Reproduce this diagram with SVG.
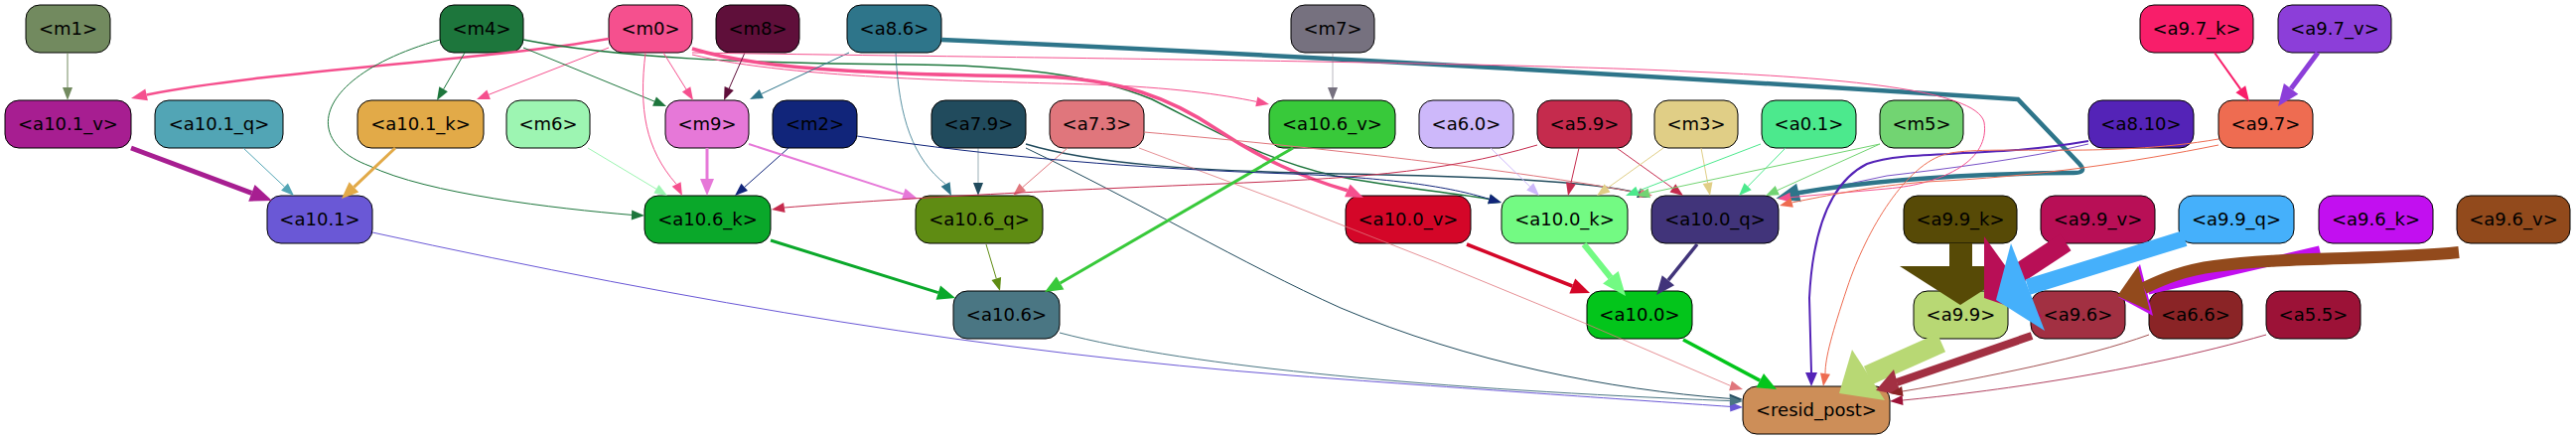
<svg xmlns="http://www.w3.org/2000/svg" width="2594" height="443" viewBox="0 0 2594 443">
<style>
.n rect{stroke:#000;stroke-width:1}
.n text{font-family:"DejaVu Sans","Liberation Sans",sans-serif;font-size:18px;text-anchor:middle;fill:#000}
.e path{fill:none}
</style>
<rect width="2594" height="443" fill="#fff"/>
<g id="nodes">
<g id="m1" class="n"><rect x="26" y="5" width="85" height="48" rx="14" fill="#728a5f"/><text x="68.5" y="35">&lt;m1&gt;</text></g>
<g id="m4" class="n"><rect x="443" y="5" width="84" height="48" rx="14" fill="#1d763c"/><text x="485" y="35">&lt;m4&gt;</text></g>
<g id="m0" class="n"><rect x="613" y="5" width="84" height="48" rx="14" fill="#f5508e"/><text x="655" y="35">&lt;m0&gt;</text></g>
<g id="m8" class="n"><rect x="721" y="5" width="84" height="48" rx="14" fill="#5f0f3a"/><text x="763" y="35">&lt;m8&gt;</text></g>
<g id="a8.6" class="n"><rect x="853" y="5" width="95" height="48" rx="14" fill="#2e758a"/><text x="900.5" y="35">&lt;a8.6&gt;</text></g>
<g id="m7" class="n"><rect x="1300" y="5" width="84" height="48" rx="14" fill="#76717f"/><text x="1342" y="35">&lt;m7&gt;</text></g>
<g id="a9.7_k" class="n"><rect x="2155" y="5" width="114" height="48" rx="14" fill="#f81e6a"/><text x="2212" y="35">&lt;a9.7_k&gt;</text></g>
<g id="a9.7_v" class="n"><rect x="2294" y="5" width="114" height="48" rx="14" fill="#8c3ed9"/><text x="2351" y="35">&lt;a9.7_v&gt;</text></g>

<g id="a10.1_v" class="n"><rect x="5" y="101" width="127" height="48" rx="14" fill="#a71e91"/><text x="68.5" y="131">&lt;a10.1_v&gt;</text></g>
<g id="a10.1_q" class="n"><rect x="156" y="101" width="129" height="48" rx="14" fill="#52a5b5"/><text x="220.5" y="131">&lt;a10.1_q&gt;</text></g>
<g id="a10.1_k" class="n"><rect x="360" y="101" width="127" height="48" rx="14" fill="#e2aa48"/><text x="423.5" y="131">&lt;a10.1_k&gt;</text></g>
<g id="m6" class="n"><rect x="510" y="101" width="84" height="48" rx="14" fill="#9df5b2"/><text x="552" y="131">&lt;m6&gt;</text></g>
<g id="m9" class="n"><rect x="670" y="101" width="84" height="48" rx="14" fill="#e678d8"/><text x="712" y="131">&lt;m9&gt;</text></g>
<g id="m2" class="n"><rect x="778" y="101" width="85" height="48" rx="14" fill="#11257a"/><text x="820.5" y="131">&lt;m2&gt;</text></g>
<g id="a7.9" class="n"><rect x="938" y="101" width="95" height="48" rx="14" fill="#214b5d"/><text x="985.5" y="131">&lt;a7.9&gt;</text></g>
<g id="a7.3" class="n"><rect x="1057" y="101" width="95" height="48" rx="14" fill="#e0767c"/><text x="1104.5" y="131">&lt;a7.3&gt;</text></g>
<g id="a10.6_v" class="n"><rect x="1278" y="101" width="127" height="48" rx="14" fill="#38c93a"/><text x="1341.5" y="131">&lt;a10.6_v&gt;</text></g>
<g id="a6.0" class="n"><rect x="1429" y="101" width="95" height="48" rx="14" fill="#cdb8fa"/><text x="1476.5" y="131">&lt;a6.0&gt;</text></g>
<g id="a5.9" class="n"><rect x="1548" y="101" width="95" height="48" rx="14" fill="#c52b4d"/><text x="1595.5" y="131">&lt;a5.9&gt;</text></g>
<g id="m3" class="n"><rect x="1666" y="101" width="84" height="48" rx="14" fill="#e0ce86"/><text x="1708" y="131">&lt;m3&gt;</text></g>
<g id="a0.1" class="n"><rect x="1774" y="101" width="95" height="48" rx="14" fill="#4ce98d"/><text x="1821.5" y="131">&lt;a0.1&gt;</text></g>
<g id="m5" class="n"><rect x="1893" y="101" width="84" height="48" rx="14" fill="#72d472"/><text x="1935" y="131">&lt;m5&gt;</text></g>
<g id="a8.10" class="n"><rect x="2103" y="101" width="106" height="48" rx="14" fill="#5423b7"/><text x="2156" y="131">&lt;a8.10&gt;</text></g>
<g id="a9.7" class="n"><rect x="2234" y="101" width="95" height="48" rx="14" fill="#ee6c51"/><text x="2281.5" y="131">&lt;a9.7&gt;</text></g>

<g id="a10.1" class="n"><rect x="269" y="197" width="106" height="48" rx="14" fill="#6a58d6"/><text x="322" y="227">&lt;a10.1&gt;</text></g>
<g id="a10.6_k" class="n"><rect x="649" y="197" width="127" height="48" rx="14" fill="#0aa82a"/><text x="712.5" y="227">&lt;a10.6_k&gt;</text></g>
<g id="a10.6_q" class="n"><rect x="922" y="197" width="128" height="48" rx="14" fill="#5f8c13"/><text x="986" y="227">&lt;a10.6_q&gt;</text></g>
<g id="a10.0_v" class="n"><rect x="1355" y="197" width="126" height="48" rx="14" fill="#d40628"/><text x="1418" y="227">&lt;a10.0_v&gt;</text></g>
<g id="a10.0_k" class="n"><rect x="1512" y="197" width="127" height="48" rx="14" fill="#73fa83"/><text x="1575.5" y="227">&lt;a10.0_k&gt;</text></g>
<g id="a10.0_q" class="n"><rect x="1663" y="197" width="128" height="48" rx="14" fill="#41347a"/><text x="1727" y="227">&lt;a10.0_q&gt;</text></g>
<g id="a9.9_k" class="n"><rect x="1917" y="197" width="114" height="48" rx="14" fill="#574a06"/><text x="1974" y="227">&lt;a9.9_k&gt;</text></g>
<g id="a9.9_v" class="n"><rect x="2055" y="197" width="115" height="48" rx="14" fill="#b80f56"/><text x="2112.5" y="227">&lt;a9.9_v&gt;</text></g>
<g id="a9.9_q" class="n"><rect x="2194" y="197" width="116" height="48" rx="14" fill="#45b0fb"/><text x="2252" y="227">&lt;a9.9_q&gt;</text></g>
<g id="a9.6_k" class="n"><rect x="2335" y="197" width="115" height="48" rx="14" fill="#c20ff0"/><text x="2392.5" y="227">&lt;a9.6_k&gt;</text></g>
<g id="a9.6_v" class="n"><rect x="2474" y="197" width="114" height="48" rx="14" fill="#924a1c"/><text x="2531" y="227">&lt;a9.6_v&gt;</text></g>

<g id="a10.6" class="n"><rect x="960" y="293" width="107" height="48" rx="14" fill="#4a7683"/><text x="1013.5" y="323">&lt;a10.6&gt;</text></g>
<g id="a10.0" class="n"><rect x="1598" y="293" width="106" height="48" rx="14" fill="#03c51b"/><text x="1651" y="323">&lt;a10.0&gt;</text></g>
<g id="a9.9" class="n"><rect x="1927" y="293" width="95" height="48" rx="14" fill="#b8d874"/><text x="1974.5" y="323">&lt;a9.9&gt;</text></g>
<g id="a9.6" class="n"><rect x="2045" y="293" width="95" height="48" rx="14" fill="#a23042"/><text x="2092.5" y="323">&lt;a9.6&gt;</text></g>
<g id="a6.6" class="n"><rect x="2164" y="293" width="94" height="48" rx="14" fill="#8a2426"/><text x="2211" y="323">&lt;a6.6&gt;</text></g>
<g id="a5.5" class="n"><rect x="2282" y="293" width="95" height="48" rx="14" fill="#9c1237"/><text x="2329.5" y="323">&lt;a5.5&gt;</text></g>

<g id="resid_post" class="n"><rect x="1755" y="389" width="148" height="48" rx="14" fill="#cd8e58"/><text x="1829" y="419">&lt;resid_post&gt;</text></g>
</g>

<g id="connectors" class="e">
<g><path d="M68,53 L68,88" stroke="#728a5f"/><polygon points="63,88 73,88 68,101" fill="#728a5f"/></g>
<g><path d="M613,39 C480,62 280,70 147.6,95.4" stroke="#f5508e" stroke-width="2.5"/><polygon points="146.3,89.5 148.9,101.3 132,99" fill="#f5508e"/></g>
<g><path d="M468,53 L446.6,89.8" stroke="#1d763c"/><polygon points="442.3,87.3 450.9,92.3 440,101" fill="#1d763c"/></g>
<g><path d="M613,48 L492.1,95.3" stroke="#f5508e"/><polygon points="490.3,90.6 493.9,100 480,100" fill="#f5508e"/></g>
<g><path d="M527,48 L659,102.1" stroke="#1d763c"/><polygon points="657.1,106.7 660.9,97.5 671,107" fill="#1d763c"/></g>
<g><path d="M443,40 C320,75 300,140 372,167 C430,195 560,210 636,216.4" stroke="#1d763c"/><polygon points="636.2,211.4 635.8,221.4 649,217" fill="#1d763c"/></g>
<g><path d="M527,40 C620,58 750,64 920,65 C1020,66 1100,75 1160,100 C1220,130 1270,160 1344,177 C1400,188 1460,194 1499.5,200.4" stroke="#1d763c" stroke-width="1.5"/><polygon points="1498.1,205.2 1500.9,195.6 1512,204" fill="#1d763c"/></g>
<g><path d="M697,49 C740,62 800,74 1045,77 C1130,79 1180,100 1225,130 C1270,160 1310,178 1356.8,191.8" stroke="#f5508e" stroke-width="3.5"/><polygon points="1354,198.2 1359.6,185.4 1373,199" fill="#f5508e"/></g>
<g><path d="M697,55 C800,80 1000,82 1100,85 C1180,88 1230,95 1265.3,102.4" stroke="#f5508e"/><polygon points="1264.3,107.3 1266.3,97.5 1278,105" fill="#f5508e"/></g>
<g><path d="M668,53 L691.1,90" stroke="#f5508e"/><polygon points="686.9,92.6 695.3,87.3 698,101" fill="#f5508e"/></g>
<g><path d="M650,53 C643,110 650,150 681.1,185.4" stroke="#f5508e"/><polygon points="676.7,187.7 685.6,183.2 687,197" fill="#f5508e"/></g>
<g><path d="M750,53 L734.2,89.1" stroke="#5f0f3a"/><polygon points="729.6,87.1 738.8,91.1 729,101" fill="#5f0f3a"/></g>
<g><path d="M855,53 L766.8,94.5" stroke="#2e758a"/><polygon points="764.7,90 768.9,99 755,100" fill="#2e758a"/></g>
<g><path d="M902,53 C905,120 920,160 952.1,185.4" stroke="#2e758a" stroke-width="0.8"/><polygon points="947.6,187.7 956.6,183.2 958,197" fill="#2e758a"/></g>
<g><path d="M2103,145 C2040,160 1960,170 1900,177 L1810,196" stroke="#5423b7" stroke-width="0.8"/></g>
<g><path d="M948,40 C1400,60 1800,85 2032,100 L2094,165 Q2103,175 2085,174 C1980,175 1880,182 1810.4,194.2" stroke="#2e758a" stroke-width="4.5"/><polygon points="1808.5,186.4 1812.3,202 1791,199" fill="#2e758a" stroke="#2e758a" stroke-width="2"/></g>
<g><path d="M697,53 C1000,58 1500,62 1700,72 C1850,78 1990,90 1998,123 C2004,160 1960,185 1900,190 L1803,198.7" stroke="#f5508e"/><polygon points="1802.5,193.7 1803.5,203.7 1790,200" fill="#f5508e"/></g>
<g><path d="M2103,142 C2000,160 1920,150 1880,165 C1840,185 1825,240 1822,300 L1824,375" stroke="#5423b7" stroke-width="2"/><polygon points="1818,375 1830,375 1824,389" fill="#5423b7"/></g>
<g><path d="M2234,146 C2150,163 2050,178 1940,183 C1880,188 1840,197 1804.6,203.9" stroke="#ee6c51"/><polygon points="1803.4,199 1805.8,208.8 1792,207" fill="#ee6c51"/></g>
<g><path d="M2234,140 C2120,160 2000,145 1960,155 C1920,165 1880,230 1860,290 C1845,335 1838,360 1838,376" stroke="#ee6c51"/><polygon points="1833,375.4 1843,376.8 1836,389" fill="#ee6c51"/></g>
<g><path d="M2230,53 L2256.3,89.8" stroke="#f81e6a" stroke-width="2"/><polygon points="2251.4,93.3 2261.2,86.3 2265,102" fill="#f81e6a"/></g>
<g><path d="M2334,53 L2307.1,89.3" stroke="#8c3ed9" stroke-width="5"/><polygon points="2299.9,83.9 2314.3,94.7 2294,107" fill="#8c3ed9"/></g>
<g><path d="M132,149 L253.4,194.3" stroke="#a71e91" stroke-width="5"/><polygon points="250.2,202.7 256.6,185.9 274,202" fill="#a71e91"/></g>
<g><path d="M245,149 L286.5,188.1" stroke="#52a5b5"/><polygon points="283.1,191.7 289.9,184.5 296,197" fill="#52a5b5"/></g>
<g><path d="M398,149 L356.4,188.3" stroke="#e2aa48" stroke-width="3"/><polygon points="351.6,183.2 361.2,193.4 344,200" fill="#e2aa48"/></g>
<g><path d="M375,234 C700,305 1000,355 1300,378 C1500,393 1650,403 1742,409.4" stroke="#6a58d6"/><polygon points="1741.7,404.4 1742.3,414.4 1755,410" fill="#6a58d6"/></g>
<g><path d="M592,149 L660.9,190.3" stroke="#9df5b2"/><polygon points="658.3,194.6 663.5,186 672,197" fill="#9df5b2"/></g>
<g><path d="M712,149 L712,180" stroke="#e678d8" stroke-width="3"/><polygon points="705,180 719,180 712,197" fill="#e678d8"/></g>
<g><path d="M794,149 L749.7,188.4" stroke="#11257a"/><polygon points="746.4,184.7 753,192.1 740,197" fill="#11257a"/></g>
<g><path d="M754,145 L909.7,195.4" stroke="#e678d8" stroke-width="2"/><polygon points="907.9,201.1 911.6,189.7 924,200" fill="#e678d8"/></g>
<g><path d="M985,149 L985,184" stroke="#214b5d" stroke-opacity="0.45"/><polygon points="980,184 990,184 985,197" fill="#214b5d"/></g>
<g><path d="M1033,145 C1100,165 1200,172 1350,175 C1500,178 1600,182 1649.9,194.2" stroke="#214b5d" stroke-width="1.5"/><polygon points="1648,198.9 1651.8,189.6 1662,199" fill="#214b5d"/></g>
<g><path d="M1033,149 C1150,205 1250,265 1350,310 C1480,365 1620,392 1742,401.4" stroke="#214b5d"/><polygon points="1741.6,396.4 1742.4,406.4 1755,402" fill="#214b5d"/></g>
<g><path d="M1075,149 L1029.8,188.5" stroke="#e0767c"/><polygon points="1026.5,184.7 1033.1,192.3 1020,197" fill="#e0767c"/></g>
<g><path d="M1152,133 C1350,150 1550,175 1651.3,194.4" stroke="#e0767c"/><polygon points="1650.3,199.3 1652.3,189.5 1664,197" fill="#e0767c"/></g>
<g><path d="M1147,149 Q1450,260 1742.5,388.4" stroke="#e0767c" stroke-width="0.8"/><polygon points="1741.1,393.2 1743.9,383.6 1755,392" fill="#e0767c"/></g>
<g><path d="M1548,146 C1450,175 1350,180 1230,185 C1050,192 900,200 789.9,209" stroke="#c52b4d"/><polygon points="789.1,204 790.6,214 777,211" fill="#c52b4d"/></g>
<g><path d="M1302,149 L1067.6,285" stroke="#38c93a" stroke-width="3"/><polygon points="1063.8,278.5 1071.4,291.5 1052,294" fill="#38c93a"/></g>
<g><path d="M776,242 L944.8,294.6" stroke="#0aa82a" stroke-width="3"/><polygon points="942.6,301.8 947,287.4 962,300" fill="#0aa82a"/></g>
<g><path d="M993,246 L1003.3,280.5" stroke="#5f8c13"/><polygon points="998.5,281.9 1008.1,279.1 1007,293" fill="#5f8c13"/></g>
<g><path d="M1067,335 C1200,370 1450,392 1742,403.6" stroke="#4a7683"/><polygon points="1741.8,398.6 1742.2,408.6 1755,404" fill="#4a7683"/></g>
<g><path d="M1342,53 L1342,88" stroke="#76717f" stroke-opacity="0.5"/><polygon points="1337,88 1347,88 1342,101" fill="#76717f"/></g>
<g><path d="M1501,149 L1540.7,187.9" stroke="#cdb8fa"/><polygon points="1537.2,191.5 1544.2,184.3 1550,197" fill="#cdb8fa"/></g>
<g><path d="M1590,149 L1581.9,184.3" stroke="#c52b4d"/><polygon points="1577,183.2 1586.8,185.4 1579,197" fill="#c52b4d"/></g>
<g><path d="M1628,149 L1684.4,189.4" stroke="#c52b4d"/><polygon points="1681.5,193.5 1687.3,185.3 1695,197" fill="#c52b4d"/></g>
<g><path d="M1675,149 L1618.6,189.4" stroke="#e0ce86"/><polygon points="1615.7,185.3 1621.5,193.5 1608,197" fill="#e0ce86"/></g>
<g><path d="M1713,149 L1719.6,184.2" stroke="#e0ce86"/><polygon points="1714.7,185.1 1724.5,183.3 1722,197" fill="#e0ce86"/></g>
<g><path d="M1773,145 L1649.1,192.4" stroke="#4ce98d"/><polygon points="1647.3,187.7 1650.9,197.1 1637,197" fill="#4ce98d"/></g>
<g><path d="M1798,149 L1760.1,187.7" stroke="#4ce98d"/><polygon points="1756.5,184.2 1763.7,191.2 1751,197" fill="#4ce98d"/></g>
<g><path d="M1893,145 L1660.7,194.3" stroke="#72d472"/><polygon points="1659.7,189.4 1661.7,199.2 1648,197" fill="#72d472"/></g>
<g><path d="M1893,145 L1789.8,191.6" stroke="#72d472"/><polygon points="1787.7,187 1791.9,196.2 1778,197" fill="#72d472"/></g>
<g><path d="M863,137 C1000,158 1150,170 1300,175 C1400,179 1460,188 1499.5,200.4" stroke="#11257a"/><polygon points="1498.1,205.2 1500.9,195.6 1512,204" fill="#11257a"/></g>
<g><path d="M1477,246 L1583.3,288" stroke="#d40628" stroke-width="3.5"/><polygon points="1580.4,295.4 1586.2,280.6 1601,295" fill="#d40628"/></g>
<g><path d="M1595,246 L1621.9,279.3" stroke="#73fa83" stroke-width="6"/><polygon points="1614.1,285.6 1629.7,273 1637,298" fill="#73fa83"/></g>
<g><path d="M1709,246 L1679.9,282.2" stroke="#41347a" stroke-width="3.5"/><polygon points="1673.7,277.2 1686.1,287.2 1668,297" fill="#41347a"/></g>
<g><path d="M1695,342 L1772.2,383.1" stroke="#03c51b" stroke-width="3.5"/><polygon points="1768.5,390.2 1776,376 1789,392" fill="#03c51b"/></g>
<g><path d="M1974.5,245 L1974.5,268" stroke="#574a06" stroke-width="23"/><polygon points="1913,268 2035,268 1974,307" fill="#574a06"/></g>
<g><path d="M2080,244 L2027,279" stroke="#b80f56" stroke-width="20"/><polygon points="1998,238 2057,320 1998,300" fill="#b80f56"/></g>
<g><path d="M2200,240 L2042,289" stroke="#45b0fb" stroke-width="16"/><polygon points="2025,245 2059,333 2010,302" fill="#45b0fb"/></g>
<g><path d="M2336,252 L2163,292" stroke="#c20ff0" stroke-width="9"/><polygon points="2155,266 2168,318 2133,299" fill="#c20ff0"/></g>
<g><path d="M2476,254 C2400,262 2300,258 2230,268 C2200,272 2180,280 2159,290" stroke="#924a1c" stroke-width="12"/><polygon points="2153,268 2165,313 2132,298" fill="#924a1c"/></g>
<g><path d="M1955,345 L1881,378" stroke="#b8d874" stroke-width="20"/><polygon points="1865,352 1898,403 1852,396" fill="#b8d874"/></g>
<g><path d="M2046,338 L1910,385" stroke="#a23042" stroke-width="8"/><polygon points="1907,372 1914,398 1889,393" fill="#a23042"/></g>
<g><path d="M2164,337 C2100,360 2000,380 1915.9,394" stroke="#8a2426" stroke-width="0.8"/><polygon points="1915.1,389 1916.6,399 1903,396" fill="#8a2426"/></g>
<g><path d="M2282,337 C2150,375 2000,395 1916,403" stroke="#9c1237" stroke-width="0.8"/><polygon points="1915.5,398 1916.5,408 1903,404" fill="#9c1237"/></g>
</g>
</svg>
